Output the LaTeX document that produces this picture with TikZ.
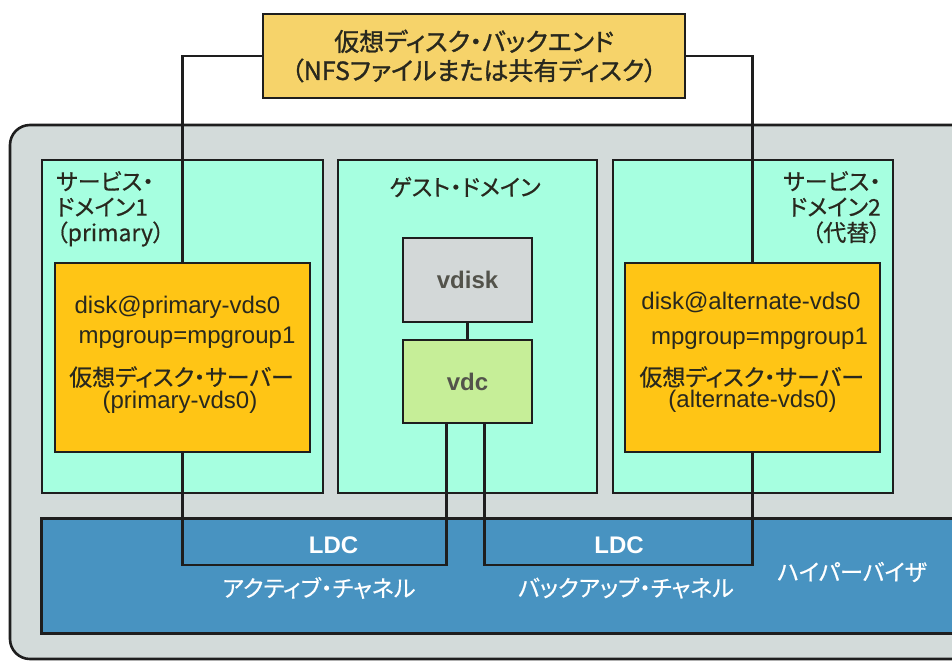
\documentclass[tikz,border=0pt]{standalone}
\usepackage{fontspec}
\setmainfont{Liberation Sans}
\newfontfamily\jp[RawFeature=+palt, FakeBold=0.5]{Noto Sans CJK JP}
\newfontfamily\jpt[RawFeature=+palt, FakeBold=1.2]{Noto Sans CJK JP}
\usetikzlibrary{calc}
\definecolor{titlefill}{RGB}{246,211,106}
\definecolor{bggray}{RGB}{211,219,218}
\definecolor{aqua}{RGB}{166,255,224}
\definecolor{orangebox}{RGB}{255,197,21}
\definecolor{diskgray}{RGB}{211,216,216}
\definecolor{vdcgreen}{RGB}{198,238,152}
\definecolor{hvblue}{RGB}{72,147,193}
\definecolor{linec}{RGB}{30,30,30}
\definecolor{txt}{RGB}{40,40,30}
\tikzset{
  boxstyle/.style={draw=linec, line width=2.6pt, inner sep=0pt, rectangle},
  conn/.style={draw=linec, line width=2.6pt},
  jplabel/.style={inner sep=0pt, text=txt, font=\jp\fontsize{23}{25.5}\selectfont},
  latlabel/.style={inner sep=0pt, text=txt, font=\fontsize{24}{28}\selectfont},
  whitejp/.style={inner sep=0pt, text=white, font=\jp\fontsize{23}{26}\selectfont},
  ldclabel/.style={inner sep=0pt, text=white, font=\fontsize{24}{28}\selectfont\bfseries},
  innerlbl/.style={font=\fontsize{24}{28}\selectfont\bfseries, text=txt!80!white},
}
\begin{document}
\begin{tikzpicture}[x=1pt,y=-1pt]
\useasboundingbox (0,0) rectangle (952,662);
\clip (0,0) rectangle (952,662);
\fill[white] (0,0) rectangle (952,662);
% outer gray platform
\draw[draw=linec, line width=2.6pt, fill=bggray, rounded corners=20pt] (10,125) rectangle (1000,659);
% domains
\node[boxstyle, fill=aqua, minimum width=281pt, minimum height=333pt] (sd1) at (182.5,326.5) {};
\node[boxstyle, fill=aqua, minimum width=259pt, minimum height=333pt] (gd) at (467.5,326.5) {};
\node[boxstyle, fill=aqua, minimum width=280pt, minimum height=333pt] (sd2) at (753,326.5) {};
% virtual disk servers
\node[boxstyle, fill=orangebox, minimum width=255pt, minimum height=189pt] (vds1) at (182.5,357.5) {};
\node[boxstyle, fill=orangebox, minimum width=255pt, minimum height=189pt] (vds2) at (752.5,357.5) {};
% vdisk and vdc
\node[boxstyle, fill=diskgray, minimum width=129pt, minimum height=84pt, innerlbl] (vdisk) at (467.5,280) {vdisk};
\node[boxstyle, fill=vdcgreen, minimum width=129pt, minimum height=83pt, innerlbl] (vdc) at (467.5,381.5) {vdc};
% hypervisor
\node[boxstyle, fill=hvblue, minimum width=960pt, minimum height=115pt, anchor=north west] (hv) at (40,517) {};
% title backend
\node[boxstyle, fill=titlefill, minimum width=422pt, minimum height=84pt, align=center, text=txt, font=\jpt\fontsize{25}{29}\selectfont] (backend) at (474,56) {仮想ディスク・バックエンド\\（NFSファイルまたは共有ディスク）};
% connectors from backend to servers
\coordinate (b1) at (vds1.north |- backend.west);
\coordinate (b2) at (vds2.north |- backend.east);
\draw[conn] (backend.west) -- (b1) -- (vds1.north);
\draw[conn] (backend.east) -- (b2) -- (vds2.north);
% vdisk-vdc
\draw[conn] (vdisk.south) -- (vdc.north);
% LDC channels
\coordinate (vdcL) at ($(vdc.south)+(-21,0)$);
\coordinate (vdcR) at ($(vdc.south)+(17,0)$);
\coordinate (l1a) at (vds1.south |- 0,565);
\coordinate (l1b) at (vdcL |- 0,565);
\coordinate (l2a) at (vdcR |- 0,565);
\coordinate (l2b) at (vds2.south |- 0,565);
\draw[conn] (vds1.south) -- (l1a) -- (l1b) -- (vdcL);
\draw[conn] (vdcR) -- (l2a) -- (l2b) -- (vds2.south);
% domain labels
\node[jplabel, anchor=north west, align=left] (sd1lbl) at (56,171) {サービス・\\ドメイン1\\（primary）};
\node[jplabel, anchor=north east, align=right] (sd2lbl) at (881,171) {サービス・\\ドメイン2\\（代替）};
\node[jplabel] (gdlbl) at (465,187) {ゲスト・ドメイン};
% server texts
\node[latlabel] (d1) at (177.5,307) {disk@primary-vds0};
\node[latlabel] (m1) at (187,338) {mpgroup=mpgroup1};
\node[jplabel] (s1) at (181.5,377) {仮想ディスク・サーバー};
\node[latlabel] (p1) at (180,402) {(primary-vds0)};
\node[latlabel] (d2) at (751,302) {disk@alternate-vds0};
\node[latlabel] (m2) at (759.5,339) {mpgroup=mpgroup1};
\node[jplabel] (s2) at (751.7,377) {仮想ディスク・サーバー};
\node[latlabel] (p2) at (752.5,401) {(alternate-vds0)};
% hypervisor texts
\node[ldclabel] (ldc1) at (333.5,545) {LDC};
\node[ldclabel] (ldc2) at (619,545) {LDC};
\node[whitejp] (ach) at (319,588) {アクティブ・チャネル};
\node[whitejp] (bch) at (626,588) {バックアップ・チャネル};
\node[whitejp] (hvlbl) at (852,572) {ハイパーバイザ};
\end{tikzpicture}
\end{document}
